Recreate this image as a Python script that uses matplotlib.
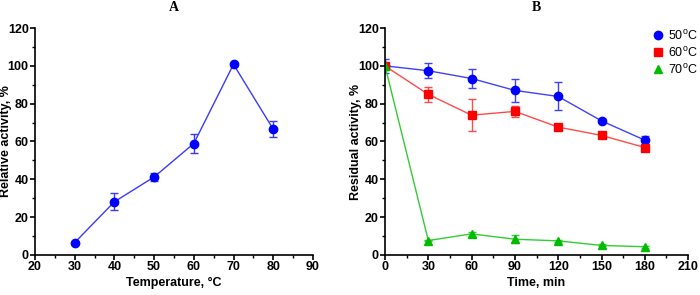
import matplotlib.pyplot as plt
from matplotlib.ticker import MultipleLocator

plt.rcParams['font.family'] = ['Liberation Sans', 'DejaVu Sans']
plt.rcParams['font.weight'] = 'bold'

# panel A - temperature profile
temps = [30, 40, 50, 60, 70, 80]
rel_activity = [6.5, 28.1, 41.2, 58.9, 100.8, 66.5]
rel_err = [0.5, 4.4, 1.9, 5.2, 0.8, 4.3]

# panel B - thermal stability
times = [0, 30, 60, 90, 120, 150, 180]
res_50 = [100.0, 97.4, 93.3, 87.0, 83.8, 70.9, 60.7]
err_50 = [3.6, 3.9, 5.0, 6.0, 7.4, 1.0, 2.3]
res_60 = [99.9, 84.9, 73.9, 75.9, 67.6, 63.2, 56.8]
err_60 = [1.0, 4.0, 8.3, 3.0, 1.0, 1.0, 1.0]
res_70 = [100.0, 7.6, 11.1, 8.3, 7.4, 5.0, 4.3]
err_70 = [0.5, 0.5, 1.0, 2.0, 0.5, 0.5, 0.5]
series_labels = ['50$^\\mathregular{o}$C', '60$^\\mathregular{o}$C', '70$^\\mathregular{o}$C']

fig = plt.figure(figsize=(7.0, 2.95), dpi=100)
ax1 = fig.add_axes([0.05, 0.136, 0.397, 0.769])
ax2 = fig.add_axes([0.55, 0.136, 0.433, 0.769])

def style(ax):
    ax.spines['top'].set_visible(False)
    ax.spines['right'].set_visible(False)
    ax.spines['left'].set_linewidth(1.2)
    ax.spines['bottom'].set_linewidth(1.2)
    ax.tick_params(axis='both', which='major', length=3.5, width=1.2, labelsize=9, pad=1)
    ax.tick_params(axis='both', which='minor', length=2, width=1.0)
    for lbl in ax.get_xticklabels() + ax.get_yticklabels():
        lbl.set_fontweight('bold')

ax1.errorbar(temps, rel_activity, yerr=rel_err, color='#3a3aff', lw=1.0,
             marker='o', ms=6, mfc='#0000ff', mec='#0000ff', capsize=3, elinewidth=1.0, capthick=1.0)
ax1.set_xlim(20, 90)
ax1.set_ylim(0, 120)
ax1.xaxis.set_major_locator(MultipleLocator(10))
ax1.xaxis.set_minor_locator(MultipleLocator(5))
ax1.yaxis.set_major_locator(MultipleLocator(20))
ax1.yaxis.set_minor_locator(MultipleLocator(10))
ax1.set_xlabel('Temperature, °C', fontsize=9, fontweight='bold', labelpad=3)
ax1.set_ylabel('Relative activity, %', fontsize=9, fontweight='bold')
ax1.yaxis.set_label_coords(-23 / 278, 0.5)
ax1.set_title('A', family='Liberation Serif', fontsize=10, fontweight='bold', pad=12)
style(ax1)

ax2.errorbar(times, res_50, yerr=err_50, color='#4040ff', lw=1.0, marker='o', ms=6,
             mfc='#0000ff', mec='#0000ff', capsize=3, elinewidth=1.0, capthick=1.0, label=series_labels[0])
ax2.errorbar(times, res_60, yerr=err_60, color='#ff4a4a', lw=1.0, marker='s', ms=6,
             mfc='#ff0000', mec='#ff0000', capsize=3, elinewidth=1.0, capthick=1.0, label=series_labels[1])
ax2.errorbar(times, res_70, yerr=err_70, color='#33cc33', lw=1.0, marker='^', ms=6,
             mfc='#00bb00', mec='#00bb00', capsize=3, elinewidth=1.0, capthick=1.0, label=series_labels[2])
ax2.set_xlim(0, 210)
ax2.set_ylim(0, 120)
ax2.xaxis.set_major_locator(MultipleLocator(30))
ax2.xaxis.set_minor_locator(MultipleLocator(15))
ax2.yaxis.set_major_locator(MultipleLocator(20))
ax2.yaxis.set_minor_locator(MultipleLocator(10))
ax2.set_xlabel('Time, min', fontsize=9, fontweight='bold', labelpad=3)
ax2.set_ylabel('Residual activity, %', fontsize=9, fontweight='bold')
ax2.yaxis.set_label_coords(-23 / 303, 0.5)
ax2.set_title('B', family='Liberation Serif', fontsize=10, fontweight='bold', pad=12)
style(ax2)

handles, labels = ax2.get_legend_handles_labels()
proxies = [plt.Line2D([], [], ls='none', marker=h[0].get_marker(), ms=6,
                      mfc=h[0].get_markerfacecolor(), mec=h[0].get_markeredgecolor()) for h in handles]
leg = ax2.legend(proxies, labels, loc='upper right', bbox_to_anchor=(1.05, 1.02), frameon=False,
                 prop={'size': 9, 'weight': 'normal'}, handlelength=1.0, handletextpad=0.3,
                 labelspacing=0.25, borderaxespad=0)

fig.savefig('out.png', dpi=100)
